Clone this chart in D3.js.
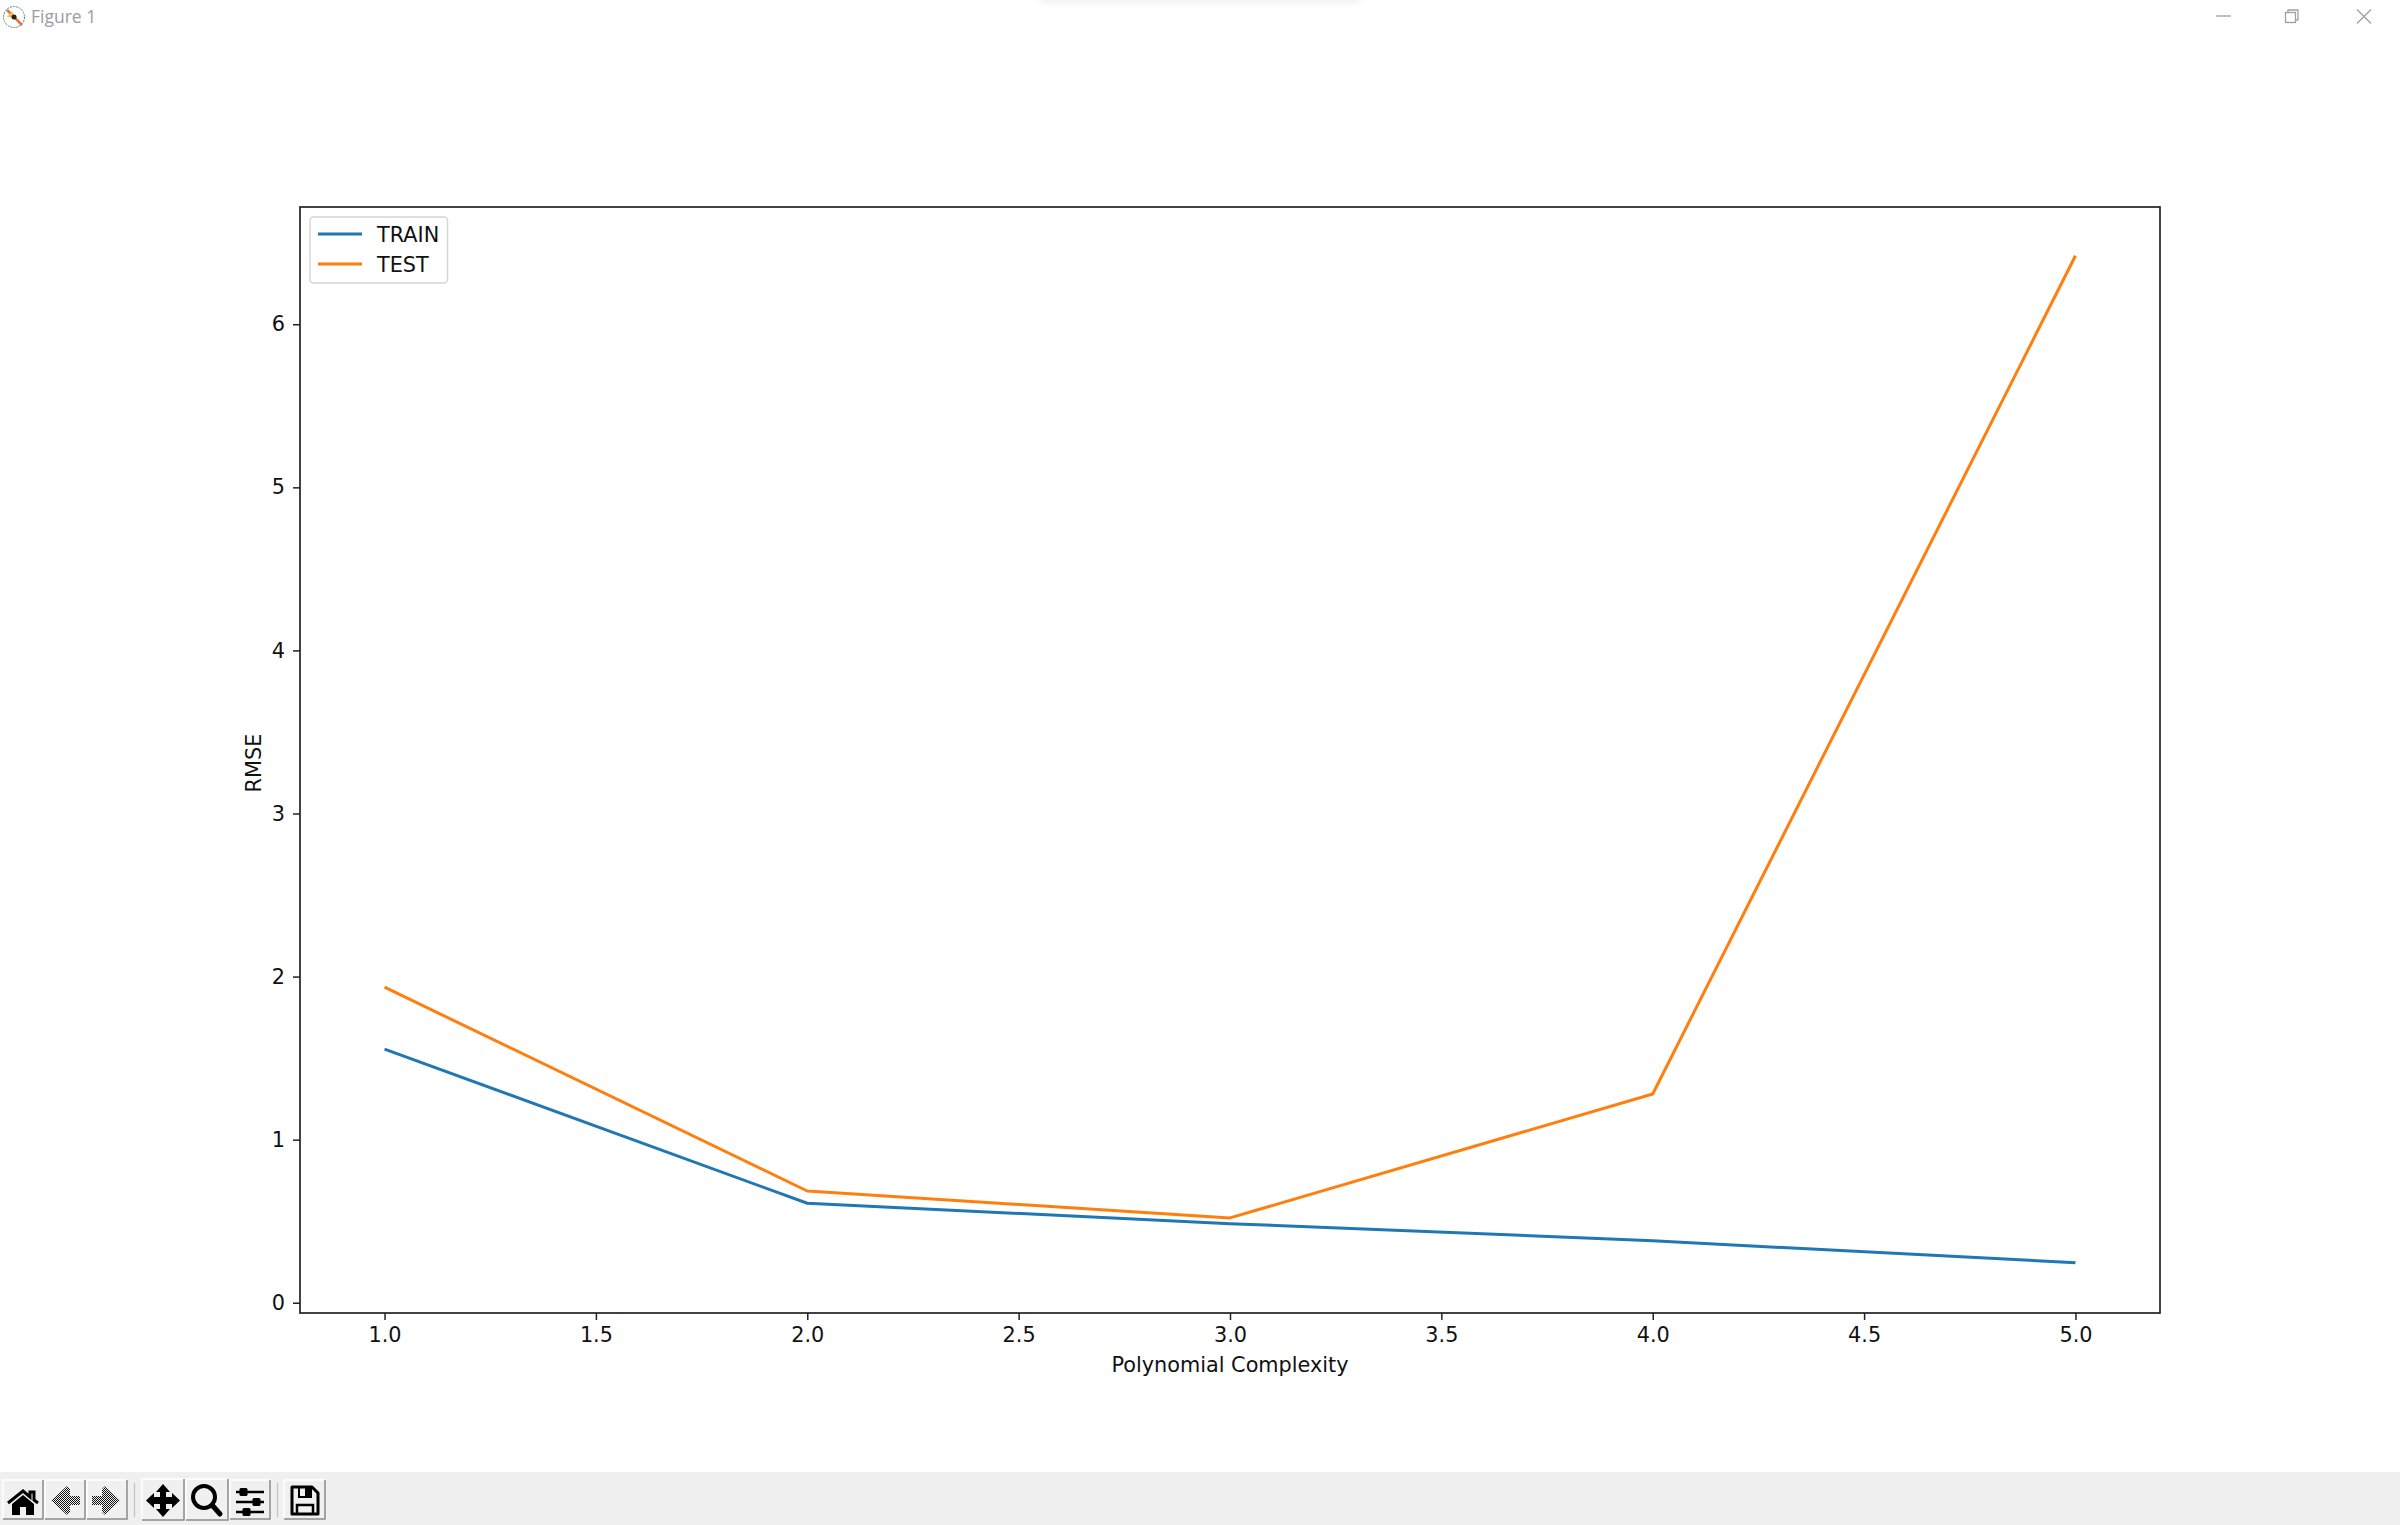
<!DOCTYPE html>
<html><head><meta charset="utf-8">
<script src="https://cdn.jsdelivr.net/npm/d3@7"></script>
<style>html,body{margin:0;padding:0;background:#fff;overflow:hidden}svg{display:block}text{font-family:"DejaVu Sans",sans-serif;fill:#111}</style>
</head><body><svg id="c" width="2400" height="1525"></svg>
<script>
const complexity=[1,2,3,4,5];
const train=[1.555,0.61,0.485,0.38,0.245];
const test=[1.935,0.685,0.52,1.28,6.42];
const xTicks=[1,1.5,2,2.5,3,3.5,4,4.5,5];
const yTicks=[0,1,2,3,4,5,6];
const seriesNames=["TRAIN","TEST"];
const seriesColors=["#1f77b4","#ff7f0e"];
const xLabel="Polynomial Complexity",yLabel="RMSE",windowTitle="Figure 1";

const svg=d3.select("#c");
const L=300,R=2160,T=207,B=1313;
const x=d3.scaleLinear().domain([0.8,5.2]).range([L,R]);
const y=d3.scaleLinear().domain([-0.063,6.719]).range([B,T]);
const ink="#222";
const fs=20.8;

const defs=svg.append("defs");
defs.append("filter").attr("id","soft").attr("x","-10%").attr("y","-300%").attr("width","120%").attr("height","700%")
  .append("feGaussianBlur").attr("stdDeviation",5);

// window title bar
const tb=svg.append("g");
tb.append("rect").attr("x",1040).attr("y",-8).attr("width",320).attr("height",8).attr("fill","#e6e6e6").attr("filter","url(#soft)");
const ic=tb.append("g").attr("transform","translate(14,17)");
ic.append("circle").attr("r",10.5).attr("fill","#fff").attr("stroke","#4a7f95").attr("stroke-width",1).attr("stroke-dasharray","2 1");
ic.append("path").attr("d","M-7,-7L8,8").attr("stroke","#e8703a").attr("stroke-width",2.5);
ic.append("path").attr("d","M-7,0L-2,-6L1,1Z").attr("fill","#f0c040");
ic.append("circle").attr("r",2.5).attr("fill","#222");
tb.append("text").attr("x",31).attr("y",23).attr("font-size",17.5).style("font-family","'Open Sans',sans-serif").style("fill","#9a9ca3").text(windowTitle);
const w=tb.append("g").attr("stroke","#a0a0a0").attr("stroke-width",1.3).attr("fill","none");
w.append("path").attr("d","M2216,16H2231");
w.append("rect").attr("x",2285.5).attr("y",12.5).attr("width",10).attr("height",10);
w.append("path").attr("d","M2288,12V10H2298V20H2296");
w.append("path").attr("d","M2357,9.5L2371,23.5M2371,9.5L2357,23.5");

// plot
const gx=svg.append("g").attr("transform",`translate(0,${B})`).call(d3.axisBottom(x).tickValues(xTicks).tickFormat(d3.format(".1f")).tickSize(7).tickPadding(7));
const gy=svg.append("g").attr("transform",`translate(${L},0)`).call(d3.axisLeft(y).tickValues(yTicks).tickFormat(d3.format("d")).tickSize(7).tickPadding(8));
[gx,gy].forEach(g=>{g.select(".domain").remove();g.selectAll("line").attr("stroke",ink).attr("stroke-width",1.5);g.selectAll("text").attr("font-size",fs).style("fill","#111");});

const line=d3.line().x((d,i)=>x(complexity[i])).y(d=>y(d));
[train,test].forEach((s,i)=>svg.append("path").attr("d",line(s)).attr("fill","none").attr("stroke",seriesColors[i]).attr("stroke-width",3).attr("stroke-linejoin","round"));
svg.append("rect").attr("x",L).attr("y",T).attr("width",R-L).attr("height",B-T).attr("fill","none").attr("stroke",ink).attr("stroke-width",1.7);

svg.append("text").attr("x",(L+R)/2).attr("y",1372).attr("text-anchor","middle").attr("font-size",fs).text(xLabel);
svg.append("text").attr("transform",`translate(261,763) rotate(-90)`).attr("text-anchor","middle").attr("font-size",fs).text(yLabel);

// legend
const lg=svg.append("g");
lg.append("rect").attr("x",310).attr("y",217).attr("width",137.5).attr("height",66).attr("rx",3.5).attr("fill","#fff").attr("stroke","#d6d6d6").attr("stroke-width",1.5);
seriesNames.forEach((n,i)=>{
  const yy=234+i*30;
  lg.append("line").attr("x1",318).attr("x2",362).attr("y1",yy).attr("y2",yy).attr("stroke",seriesColors[i]).attr("stroke-width",3);
  lg.append("text").attr("x",377).attr("y",yy+7.5).attr("font-size",fs).text(n);
});

// toolbar
const bar=svg.append("g");
bar.append("rect").attr("x",0).attr("y",1472).attr("width",2400).attr("height",53).attr("fill","#f0f0f0");
const btn=(x0,x1,y0,y1)=>{
  bar.append("path").attr("d",`M${x0},${y1}V${y0}H${x1}`).attr("fill","none").attr("stroke","#fff").attr("stroke-width",1.5);
  bar.append("path").attr("d",`M${x0},${y1}H${x1}V${y0}`).attr("fill","none").attr("stroke","#8a8a8a").attr("stroke-width",1.5);
};
btn(3,43,1480,1519);btn(45,85,1480,1519);btn(87,127,1480,1519);
btn(142,184,1479,1520);btn(186,228,1479,1520);btn(230,270,1480,1519);btn(284,325,1480,1519);
bar.append("path").attr("d","M134.5,1483V1517M277.5,1483V1517").attr("stroke","#c4c4c4").attr("stroke-width",1.2);
// home
bar.append("path").attr("d","M8,1503L23,1491L30,1497V1492H34V1500L38,1503").attr("fill","none").attr("stroke","#000").attr("stroke-width",3);
bar.append("path").attr("d","M12,1504L23,1495L34,1504V1515H26V1507H20V1515H12Z").attr("fill","#000");
// arrows
const pat=defs.append("pattern").attr("id","dith").attr("width",2).attr("height",2).attr("patternUnits","userSpaceOnUse");
pat.append("rect").attr("width",2).attr("height",2).attr("fill","#eee");
pat.append("rect").attr("width",1).attr("height",1).attr("fill","#111");
pat.append("rect").attr("x",1).attr("y",1).attr("width",1).attr("height",1).attr("fill","#111");
bar.append("path").attr("d","M51,1500.5L67,1486L70,1489V1496H80V1505H70V1512L67,1515Z").attr("fill","url(#dith)");
bar.append("path").attr("d","M120,1500.5L105,1486L102,1489V1496H92V1505H102V1512L105,1515Z").attr("fill","url(#dith)");
// pan
bar.append("path").attr("d","M163,1484L170,1492H166V1497H172V1493L180,1500.5L172,1508V1504H166V1509H170L163,1517L156,1509H160V1504H154V1508L146,1500.5L154,1493V1497H160V1492H156Z").attr("fill","#000");
// zoom
bar.append("circle").attr("cx",204).attr("cy",1497).attr("r",11).attr("fill","none").attr("stroke","#000").attr("stroke-width",4);
bar.append("path").attr("d","M212,1505L220,1514").attr("stroke","#000").attr("stroke-width",5).attr("stroke-linecap","round");
// sliders
[[1492,243],[1502,256],[1512,246]].forEach(([yy,cx])=>{
  bar.append("path").attr("d",`M236,${yy}H264`).attr("stroke","#000").attr("stroke-width",2.5);
  bar.append("rect").attr("x",cx-3.5).attr("y",yy-4).attr("width",8).attr("height",8).attr("rx",1.5).attr("fill","#000");
});
// save
bar.append("path").attr("d","M292,1487H312L318,1493V1514H292Z").attr("fill","none").attr("stroke","#000").attr("stroke-width",3).attr("stroke-linejoin","round");
bar.append("path").attr("d","M299,1487H311V1497H299Z").attr("fill","none").attr("stroke","#000").attr("stroke-width",2);
bar.append("rect").attr("x",305).attr("y",1488).attr("width",5).attr("height",8).attr("fill","#000");
bar.append("path").attr("d","M297,1514V1505H313V1514").attr("fill","none").attr("stroke","#000").attr("stroke-width",2.5);
</script></body></html>
